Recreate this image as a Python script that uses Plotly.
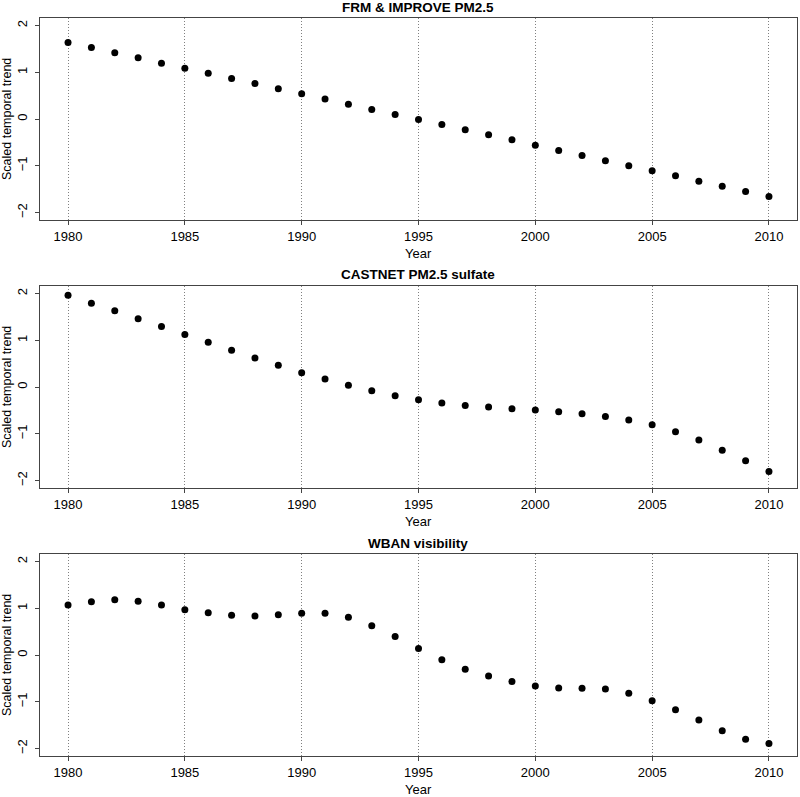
import plotly.graph_objects as go

years = list(range(1980, 2011))

frm_improve = [1.636, 1.529, 1.415, 1.308, 1.194, 1.087, 0.976, 0.866, 0.759, 0.645,
               0.538, 0.428, 0.317, 0.203, 0.096, -0.010, -0.118, -0.232, -0.339, -0.446,
               -0.560, -0.674, -0.781, -0.895, -1.002, -1.109, -1.216, -1.330, -1.437, -1.551,
               -1.658]
castnet = [1.964, 1.793, 1.629, 1.457, 1.293, 1.121, 0.957, 0.786, 0.621, 0.464,
           0.307, 0.171, 0.036, -0.079, -0.186, -0.271, -0.343, -0.393, -0.429, -0.464,
           -0.493, -0.529, -0.571, -0.629, -0.707, -0.807, -0.957, -1.136, -1.350, -1.579,
           -1.807]
wban = [1.070, 1.141, 1.184, 1.148, 1.070, 0.970, 0.905, 0.848, 0.834, 0.862,
        0.891, 0.891, 0.805, 0.626, 0.397, 0.140, -0.104, -0.304, -0.447, -0.569,
        -0.662, -0.705, -0.712, -0.726, -0.819, -0.977, -1.170, -1.392, -1.621, -1.800,
        -1.893]

titles = ["FRM & IMPROVE PM2.5", "CASTNET PM2.5 sulfate", "WBAN visibility"]
series = [frm_improve, castnet, wban]
x_ticks = [1980, 1985, 1990, 1995, 2000, 2005, 2010]
y_ticks = [-2, -1, 0, 1, 2]

W, H = 800, 797
FONT = "Liberation Sans, Arial, Helvetica, sans-serif"
# pixel boxes (top, bottom) for each panel
boxes = [(18, 220), (286, 488), (554, 756)]
x_left, x_right = 40, 797

fig = go.Figure()
annotations = []
for i, (title, vals) in enumerate(zip(titles, series)):
    n = i + 1
    xa = "x" if n == 1 else f"x{n}"
    ya = "y" if n == 1 else f"y{n}"
    fig.add_trace(go.Scatter(x=years, y=vals, mode="markers",
                             marker=dict(color="black", size=7),
                             xaxis=xa, yaxis=ya, showlegend=False))
    top, bot = boxes[i]
    axis_common = dict(showline=True, linecolor="#444444", linewidth=1, mirror=True,
                       ticks="outside", ticklen=4, tickcolor="#444444",
                       tickfont=dict(family=FONT, size=13, color="black"),
                       zeroline=False)
    fig.layout[("xaxis" if n == 1 else f"xaxis{n}")] = dict(
        domain=[x_left / W, x_right / W], range=[1978.8, 2011.2],
        tickvals=x_ticks, showgrid=True, gridcolor="#808080", griddash="1px,2px",
        gridwidth=1, anchor=ya, **axis_common)
    fig.layout[("yaxis" if n == 1 else f"yaxis{n}")] = dict(
        domain=[1 - bot / H, 1 - top / H], range=[-2.16, 2.16],
        tickvals=y_ticks, ticktext=[("−" + str(-v)) if v < 0 else str(v) for v in y_ticks],
        tickangle=-90, showgrid=False, anchor=xa, ticklabelstandoff=3, **axis_common)
    annotations.append(dict(text=f"<b>{title}</b>", x=(x_left + x_right) / 2 / W,
                            y=1 - (top - 11) / H, xref="paper", yref="paper",
                            showarrow=False, xanchor="center", yanchor="middle",
                            font=dict(family=FONT, size=13.5, color="black")))
    annotations.append(dict(text="Year", x=(x_left + x_right) / 2 / W,
                            y=1 - (bot + 33) / H, xref="paper", yref="paper",
                            showarrow=False, xanchor="center", yanchor="middle",
                            font=dict(family=FONT, size=13, color="black")))
    annotations.append(dict(text="Scaled temporal trend", x=7 / W,
                            y=1 - (top + bot) / 2 / H, xref="paper", yref="paper",
                            showarrow=False, xanchor="center", yanchor="middle",
                            textangle=-90,
                            font=dict(family=FONT, size=12.5, color="black")))

fig.update_layout(width=W, height=H, margin=dict(l=0, r=0, t=0, b=0),
                  plot_bgcolor="white", paper_bgcolor="white",
                  annotations=annotations)
fig.write_html("out.html", config={"displayModeBar": False},
               post_script="document.body.style.margin='0';document.body.style.padding='0';")
